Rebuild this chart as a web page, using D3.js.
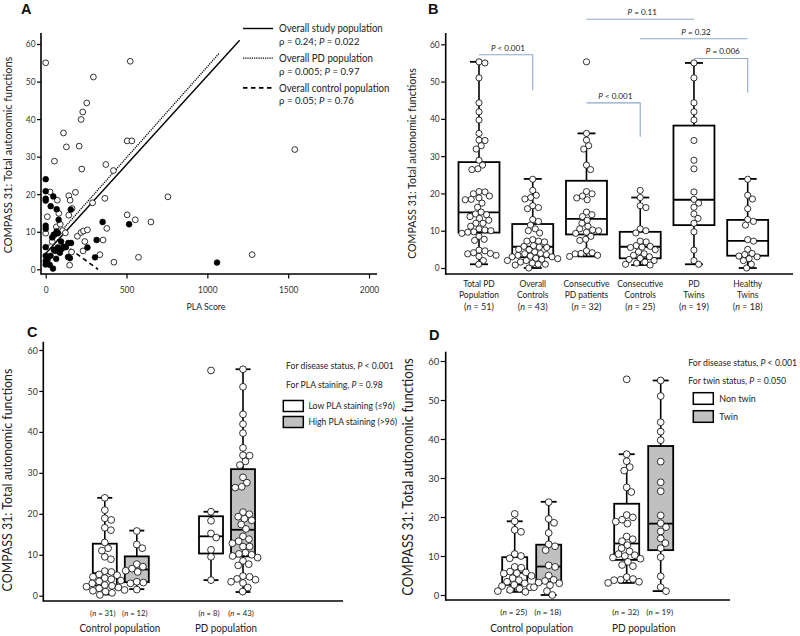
<!DOCTYPE html>
<html><head><meta charset="utf-8">
<script src="https://cdn.jsdelivr.net/npm/d3@7"></script>
<style>body{margin:0;background:#fff}svg{display:block}</style>
</head><body>
<svg id="c" width="800" height="636"></svg>
<script>
// ---------------- DATA ----------------
const yTicks = [0, 10, 20, 30, 40, 50, 60];
const plaTicks = [0, 500, 1000, 1500, 2000];

// Panel A: [PLA score, COMPASS 31]
const pdPoints = [[0,55.0],[523,55.4],[295,51.2],[254,44.3],[229,41.9],[219,39.9],[110,36.3],[128,32.6],[207,32.8],[504,34.2],
  [533,34.2],[54,28.8],[372,27.9],[223,26.7],[419,26.3],[1541,31.9],[27,20.6],[72,18.4],[143,19.6],[151,18.4],
  [184,20.5],[163,16.2],[81,14.9],[143,14.4],[290,17.7],[366,18.9],[756,19.3],[504,14.5],[554,13.2],[651,12.6],
  [378,10.9],[66,11.3],[105,10.3],[0,9.6],[122,9.7],[196,8.8],[219,9.8],[234,10.2],[258,10.5],[242,7.4],
  [355,7.8],[231,4.9],[335,3.9],[574,3.2],[422,1.9],[1277,3.9],[148,1.1],[160,4.6],[90,12.0],[40,7.4],[10,14.0]];
const ctrlPoints = [[0,24],[0,20.8],[0,18.8],[0,18.3],[47,19.4],[31,16.8],[68,16.0],[155,15.9],[80,13.2],[0,11.6],
  [0,10.8],[68,10.1],[50,9.2],[75,9.6],[352,12.6],[516,12.0],[0,5.9],[50,5.2],[75,5.8],[100,5.5],
  [125,5.9],[157,7.0],[140,7.0],[315,7.8],[258,5.8],[0,3.6],[12,2.6],[0,1.3],[25,1.2],[45,0.2],
  [65,2.8],[138,3.3],[150,3.0],[305,3.2],[1060,1.8],[88,4.4],[5,3.3],[0,2.2],[30,3.6],[60,4.9],[110,6.0],[95,7.4],[40,8.5]];
const fitNames = ["Overall study population", "Overall PD population", "Overall control population"];
const fitStats = ["ρ = 0.24; *P* = 0.022", "ρ = 0.005; *P* = 0.97", "ρ = 0.05; *P* = 0.76"];
const fitLines = [[[0,4.2],[1200,61.0]], [[0,5.5],[1075,57.6]], [[70,7.9],[324,0]]];

// Group values (COMPASS 31)
const consecPD = [55.3,36.1,34.3,32.8,31.9,27.6,26.4,20.5,19.9,19.3,18.8,18.3,15.0,14.3,13.8,12.8,12.0,11.2,10.5,10.2,10.0,9.6,9.3,8.5,7.7,7.4,4.6,4.1,3.9,3.8,3.4,3.1];
const pdTwins = [55.0,51.0,44.3,41.9,39.7,34.2,28.9,26.6,20.4,18.4,17.4,16.3,14.5,13.3,12.0,9.7,4.8,2.0,1.0];
const consecCtrl = [20.8,18.9,16.7,16.2,10.5,10.0,9.4,7.2,7.0,6.0,5.8,5.6,5.5,4.9,4.3,3.8,3.4,3.0,2.6,2.3,2.0,1.6,1.3,1.0,0.8];
const healthyTwins = [23.8,19.5,18.5,15.9,13.0,12.5,11.5,7.6,7.2,5.0,3.9,3.6,3.2,3.0,2.5,2.0,1.0,0.0];
const ctrlLowPLA = [23.9,20.9,18.9,18.5,16.6,16.0,13.0,11.6,11.0,9.5,8.9,6.0,5.8,5.2,5.0,4.6,4.0,3.7,3.5,3.0,2.6,2.4,2.0,1.8,1.4,1.0,0.7,0.2,4.3,2.2,1.2];
const ctrlHighPLA = [15.8,12.5,11.6,7.7,7.1,6.6,6.1,5.8,3.4,3.2,3.0,1.5];
const pdLowPLA = [55.0,20.5,18.3,15.2,14.2,11.2,9.5,3.8];
const pdHighPLA = [55.3,36.1,34.3,32.8,31.9,27.6,26.4,19.9,19.3,18.8,13.8,12.8,12.0,10.5,10.2,10.0,9.3,8.5,7.7,7.4,4.6,4.1,3.9,3.4,3.1,
  51.0,44.3,41.9,39.7,34.2,28.9,26.6,20.4,18.4,17.4,16.3,14.5,13.3,12.0,9.7,4.8,2.0,1.0];

// Panel B
const bCats = ["Total PD|Population", "Overall|Controls", "Consecutive|PD patients", "Consecutive|Controls", "PD|Twins", "Healthy|Twins"];
const bN = [51, 43, 32, 25, 19, 18];
const bValues = [consecPD.concat(pdTwins), consecCtrl.concat(healthyTwins), consecPD, consecCtrl, pdTwins, healthyTwins];
const bLo  = [1.0, 0.0, 3.1, 0.8, 1.0, 0.0];
const bQ1  = [9.5, 2.9, 9.0, 2.6, 11.5, 3.3];
const bMed = [14.9, 5.7, 13.2, 5.7, 18.3, 7.3];
const bQ3  = [28.4, 11.8, 23.4, 9.7, 38.2, 12.9];
const bHi  = [55.3, 23.9, 36.1, 18.9, 55.0, 23.9];
const bracketFrom = [0, 2, 2, 3, 4];
const bracketTo = [1, 3, 4, 5, 5];
const bracketLevel = [57.2, 44.3, 66.7, 61.5, 56.2];
const bracketEnd = [47.7, 35.2, null, null, 47.0];
const bracketText = ["*P* < 0.001", "*P* < 0.001", "*P* = 0.11", "*P* = 0.32", "*P* = 0.006"];

// Panels C and D
const groups = ["Control population", "PD population"];
const cN = [[31, 12], [8, 43]];
const cValues = [[ctrlLowPLA, ctrlHighPLA], [pdLowPLA, pdHighPLA]];
const cLo  = [[0.3, 1.6], [3.8, 0.9]];
const cQ1  = [[2.5, 3.3], [10.3, 9.6]];
const cMed = [[5.5, 6.4], [14.5, 16.1]];
const cQ3  = [[12.7, 9.6], [19.4, 30.9]];
const cHi  = [[23.9, 15.9], [20.5, 55.3]];
const cLegend = ["Low PLA staining (≤96)", "High PLA staining (>96)"];
const cStats = ["For disease status, *P* < 0.001", "For PLA staining, *P* = 0.98"];

const dN = [[25, 18], [32, 19]];
const dValues = [[consecCtrl, healthyTwins], [consecPD, pdTwins]];
const dLo  = [[0.8, 0.0], [3.1, 1.0]];
const dQ1  = [[2.6, 3.3], [9.0, 11.5]];
const dMed = [[5.7, 7.3], [13.2, 18.3]];
const dQ3  = [[9.7, 12.9], [23.4, 38.2]];
const dHi  = [[18.9, 23.9], [36.1, 55.0]];
const dLegend = ["Non twin", "Twin"];
const dStats = ["For disease status, *P* < 0.001", "For twin status, *P* = 0.050"];

// ---------------- DRAWING ----------------
const FONT = "Lato, 'Open Sans', 'DejaVu Sans', sans-serif";
const TXT = "#222";
const GREY = "#c0c0c0";
const svg = d3.select("#c");

function rich(g, x, y, str, size, anchor) {
  const t = g.append("text").attr("x", x).attr("y", y).attr("dy", "0.35em")
    .attr("font-size", size).attr("font-family", FONT).attr("fill", TXT)
    .attr("text-anchor", anchor || "start");
  const parts = str.split("*");
  if (parts.length === 1) t.text(str);
  else parts.forEach((s, i) => { if (s) t.append("tspan").attr("font-style", i % 2 ? "italic" : null).text(s); });
  return t;
}
function measure(str, size) {
  const t = rich(svg, 0, -100, str, size);
  const w = t.node().getComputedTextLength(); t.remove(); return w;
}
function sizeFor(str, w) { return 10 * w / measure(str, 10); }

const fsAB = sizeFor("Overall study population", 104);
const fsBcat = sizeFor("Consecutive", 46);
const fsBn = sizeFor("(*n* = 51)", 30);
const fsBp = sizeFor("*P* < 0.001", 34);
const fsTickA = sizeFor("2000", 19.5);
const fsC = sizeFor("For disease status, *P* < 0.001", 108);
const fsCgrp = sizeFor("Control population", 81);
const fsCn = sizeFor("(*n* = 31)", 25.5);
const fsD = sizeFor("For disease status, *P* < 0.001", 109);
const fsDgrp = sizeFor("Control population", 83);
const fsDn = sizeFor("(*n* = 25)", 27);
const LAB = "COMPASS 31: Total autonomic functions";

function yLabel(x, y, len) {
  const fs = sizeFor(LAB, len);
  svg.append("text").attr("transform", `translate(${x},${y}) rotate(-90)`).attr("text-anchor", "middle")
    .attr("dy", "0.35em").attr("font-size", fs).attr("font-family", FONT).attr("fill", TXT).text(LAB);
}
function panelLetter(x, y, s) {
  svg.append("text").attr("class", "letter").attr("x", x).attr("y", y).attr("font-family", "'Liberation Sans', Arial, sans-serif")
    .attr("font-weight", "bold").attr("font-size", 14.5).attr("fill", "#111").text(s);
}
function yAxis(scale, x, yTop, yBot, fs, tick) {
  const g = svg.append("g").attr("transform", `translate(${x},0)`)
    .call(d3.axisLeft(scale).tickValues(yTicks).tickFormat(d3.format("d")).tickSize(tick).tickPadding(1.5).tickSizeOuter(0));
  g.select(".domain").remove();
  g.selectAll("line").attr("stroke", "#000").attr("stroke-width", 1.2);
  g.selectAll("text").attr("font-family", FONT).attr("font-size", fs).attr("fill", "#333");
  svg.append("line").attr("x1", x).attr("x2", x).attr("y1", yTop).attr("y2", yBot).attr("stroke", "#000").attr("stroke-width", 1.6);
}
function hLine(y, x1, x2) {
  svg.append("line").attr("x1", x1).attr("x2", x2).attr("y1", y).attr("y2", y).attr("stroke", "#000").attr("stroke-width", 1.6);
}
function swarm(values, y, r) {
  const pts = values.map(v => ({ v, y: y(v) })).sort((a, b) => a.y - b.y);
  const d = 2 * r * 0.97, placed = [];
  for (const p of pts) {
    const c = [0];
    for (const q of placed) {
      const dy = Math.abs(q.y - p.y);
      if (dy < d) { const dx = Math.sqrt(d * d - dy * dy); c.push(q.dx + dx, q.dx - dx); }
    }
    c.sort((a, b) => Math.abs(a) - Math.abs(b));
    for (const cc of c) {
      if (placed.every(q => (q.dx - cc) ** 2 + (q.y - p.y) ** 2 >= d * d - 0.01)) { p.dx = cc; break; }
    }
    placed.push(p);
  }
  return placed;
}
function boxPlot(cx, w, capW, lo, q1, med, q3, hi, y, fill, values, r) {
  const g = svg.append("g");
  g.append("line").attr("x1", cx).attr("x2", cx).attr("y1", y(hi)).attr("y2", y(q3)).attr("stroke", "#000").attr("stroke-width", 1.6);
  g.append("line").attr("x1", cx).attr("x2", cx).attr("y1", y(q1)).attr("y2", y(lo)).attr("stroke", "#000").attr("stroke-width", 1.6);
  [lo, hi].forEach(v => g.append("line").attr("x1", cx - capW / 2).attr("x2", cx + capW / 2).attr("y1", y(v)).attr("y2", y(v)).attr("stroke", "#000").attr("stroke-width", 1.8));
  g.append("rect").attr("x", cx - w / 2).attr("y", y(q3)).attr("width", w).attr("height", y(q1) - y(q3))
    .attr("fill", fill).attr("stroke", "#000").attr("stroke-width", 1.8);
  g.append("line").attr("x1", cx - w / 2).attr("x2", cx + w / 2).attr("y1", y(med)).attr("y2", y(med)).attr("stroke", "#000").attr("stroke-width", 1.8);
  g.selectAll("circle.p").data(swarm(values, y, r)).enter().append("circle")
    .attr("cx", d => cx + d.dx).attr("cy", d => d.y).attr("r", r)
    .attr("fill", "#fff").attr("stroke", "#000").attr("stroke-width", 0.8);
}

// ===== Panel A =====
const xA = d3.scaleLinear().domain([0, 2000]).range([45.7, 369]);
const yA = d3.scaleLinear().domain([0, 60]).range([269.3, 44]);
panelLetter(21, 14, "A");
yAxis(yA, 41, 33, 274.8, fsTickA, 4);
hLine(274, 41, 377);
{
  const g = svg.append("g").attr("transform", "translate(0,274)")
    .call(d3.axisBottom(xA).tickValues(plaTicks).tickFormat(d3.format("d")).tickSize(4.5).tickPadding(8).tickSizeOuter(0));
  g.select(".domain").remove();
  g.selectAll("line").attr("stroke", "#000").attr("stroke-width", 1.2);
  g.selectAll("text").attr("font-family", FONT).attr("font-size", fsTickA).attr("fill", "#333");
}
yLabel(8, 155, 197);
rich(svg, 206, 307, "PLA Score", sizeFor("PLA Score", 39), "middle");
const dashes = [null, "1.2,1", "4.5,3.5"];
const widths = [1.4, 1.3, 1.6];
fitLines.forEach((ln, i) => {
  svg.append("line").attr("x1", xA(ln[0][0])).attr("y1", yA(ln[0][1])).attr("x2", xA(ln[1][0])).attr("y2", yA(ln[1][1]))
    .attr("stroke", "#000").attr("stroke-width", widths[i]).attr("stroke-dasharray", dashes[i]);
});
svg.append("g").selectAll("circle").data(pdPoints).enter().append("circle")
  .attr("cx", d => xA(d[0])).attr("cy", d => yA(d[1])).attr("r", 2.9)
  .attr("fill", "#fff").attr("stroke", "#000").attr("stroke-width", 0.8);
svg.append("g").selectAll("circle").data(ctrlPoints).enter().append("circle")
  .attr("cx", d => xA(d[0])).attr("cy", d => yA(d[1])).attr("r", 2.9)
  .attr("fill", "#000").attr("stroke", "#000").attr("stroke-width", 0.6);
fitNames.forEach((n, i) => {
  const y0 = 28.5 + i * 29.7;
  svg.append("line").attr("x1", 243).attr("x2", 273).attr("y1", y0).attr("y2", y0)
    .attr("stroke", "#000").attr("stroke-width", widths[i]).attr("stroke-dasharray", dashes[i]);
  rich(svg, 279, y0, n, fsAB);
  rich(svg, 279, y0 + 13.2, fitStats[i], fsAB);
});

// ===== Panel B =====
const yB = d3.scaleLinear().domain([0, 60]).range([268, 44.3]);
const xB = d3.scalePoint().domain(bCats).range([479, 747.7]);
panelLetter(428, 14, "B");
yAxis(yB, 445.7, 33, 274.8, fsTickA, 4.5);
hLine(274, 445.7, 793);
yLabel(411.7, 163.5, 191);
bCats.forEach((c, i) => {
  boxPlot(xB(c), 41, 18, bLo[i], bQ1[i], bMed[i], bQ3[i], bHi[i], yB, "#fff", bValues[i], 3.1);
  const parts = c.split("|");
  rich(svg, xB(c), 283.5, parts[0], fsBcat, "middle");
  rich(svg, xB(c), 295, parts[1], fsBcat, "middle");
  rich(svg, xB(c), 306.5, `(*n* = ${bN[i]})`, fsBn, "middle");
});
bracketFrom.forEach((f, i) => {
  const x1 = xB(bCats[f]), x2 = xB(bCats[bracketTo[i]]), yl = yB(bracketLevel[i]);
  let dstr = `M${x1},${yl}H${x2}`;
  if (bracketEnd[i] !== null) dstr += `V${yB(bracketEnd[i])}`;
  svg.append("path").attr("d", dstr).attr("fill", "none").attr("stroke", "#8ea8cb").attr("stroke-width", 1.1);
  rich(svg, (x1 + x2) / 2 + 2, yl - 7, bracketText[i], fsBp, "middle");
});

// ===== Panel C =====
const yC = d3.scaleLinear().domain([0, 60]).range([595.7, 350]);
const xC = d3.scalePoint().domain(groups).range([120.8, 227]);
panelLetter(27, 337, "C");
yAxis(yC, 43.3, 341.7, 601.8, fsTickA * 1.05, 4);
hLine(601, 43.3, 343);
yLabel(7, 480, 223);
groups.forEach((gname, gi) => {
  [0, 1].forEach(s => {
    const cx = xC(gname) + (s ? 16 : -16);
    boxPlot(cx, 24, 15, cLo[gi][s], cQ1[gi][s], cMed[gi][s], cQ3[gi][s], cHi[gi][s], yC, s ? GREY : "#fff", cValues[gi][s], 3.4);
    rich(svg, cx - 2, 613.5, `(*n* = ${cN[gi][s]})`, fsCn, "middle");
  });
  rich(svg, xC(gname) - 1, 628.5, gname, fsCgrp, "middle");
});
rich(svg, 286, 366, cStats[0], fsC);
rich(svg, 286, 385, cStats[1], fsC);
cLegend.forEach((l, i) => {
  svg.append("rect").attr("x", 283.3).attr("y", 400.5 + i * 16).attr("width", 20).attr("height", 11)
    .attr("fill", i ? GREY : "#fff").attr("stroke", "#000").attr("stroke-width", 1.5);
  rich(svg, 308.5, 406 + i * 16, l, fsC);
});

// ===== Panel D =====
const yD = d3.scaleLinear().domain([0, 60]).range([595, 361]);
const xD = d3.scalePoint().domain(groups).range([531.7, 643.7]);
panelLetter(429, 340, "D");
yAxis(yD, 445.7, 351.7, 600.8, fsTickA * 1.12, 5);
hLine(600, 445.7, 730);
yLabel(408, 477, 238);
groups.forEach((gname, gi) => {
  [0, 1].forEach(s => {
    const cx = xD(gname) + (s ? 17 : -17);
    boxPlot(cx, 25, 16, dLo[gi][s], dQ1[gi][s], dMed[gi][s], dQ3[gi][s], dHi[gi][s], yD, s ? GREY : "#fff", dValues[gi][s], 3.4);
    rich(svg, cx - 1, 612.5, `(*n* = ${dN[gi][s]})`, fsDn, "middle");
  });
  rich(svg, xD(gname), 628.5, gname, fsDgrp, "middle");
});
rich(svg, 688.3, 362.7, dStats[0], fsD);
rich(svg, 688.3, 381, dStats[1], fsD);
dLegend.forEach((l, i) => {
  svg.append("rect").attr("x", 693.3).attr("y", 392.7 + i * 18).attr("width", 20).attr("height", 11.6)
    .attr("fill", i ? GREY : "#fff").attr("stroke", "#000").attr("stroke-width", 1.5);
  rich(svg, 719.3, 398.5 + i * 18, l, fsD * 1.03);
});

// Mimic a narrower (Calibri-like) face on single-run texts: enlarge glyphs, keep each string's width.
svg.selectAll("text").filter(function () { return !this.classList.contains("letter") && this.querySelectorAll("tspan").length === 0; }).each(function () {
  const t = d3.select(this);
  const L = this.getComputedTextLength();
  const f = parseFloat(t.attr("font-size"));
  t.attr("font-size", f * 1.09).attr("textLength", L).attr("lengthAdjust", "spacingAndGlyphs");
});
</script>
</body></html>
